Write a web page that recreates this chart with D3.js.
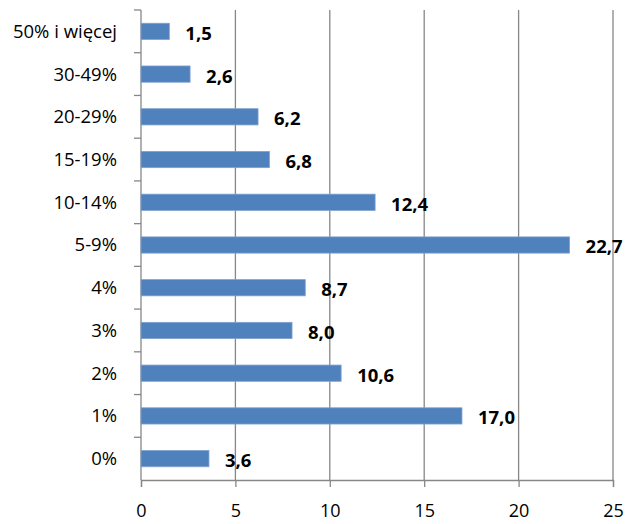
<!DOCTYPE html>
<html>
<head>
<meta charset="utf-8">
<script src="https://cdn.jsdelivr.net/npm/d3@7"></script>
<style>
	body { margin: 0; background: #fff; }
	text { font-family: "Open Sans", sans-serif; fill: #000; }
</style>
</head>
<body>
<script>
// categories from bottom to top
var categories = ["0%", "1%", "2%", "3%", "4%", "5-9%", "10-14%", "15-19%", "20-29%", "30-49%", "50% i więcej"];
// share of respondents, in %
var values = [3.6, 17.0, 10.6, 8.0, 8.7, 22.7, 12.4, 6.8, 6.2, 2.6, 1.5];
var xTicks = [0, 5, 10, 15, 20, 25];

var width = 627, height = 524;
var margin = { top: 10, right: 14, bottom: 44, left: 141 };

var svg = d3.select("body").append("svg")
	.attr("width", width)
	.attr("height", height);

var g = svg.append("g")
	.attr("transform", "translate(" + margin.left + "," + margin.top + ")");

var w = width - margin.left - margin.right,
	h = height - margin.top - margin.bottom;

var x = d3.scaleLinear().domain([0, 25]).range([0, w]);
var y = d3.scaleBand().domain(categories).range([h, 0]);

var gridColor = "#878787";

// vertical gridlines
g.selectAll(".grid")
	.data(xTicks.slice(1))
	.enter().append("line")
	.attr("x1", function (d) { return x(d); })
	.attr("x2", function (d) { return x(d); })
	.attr("y1", 0)
	.attr("y2", h)
	.attr("stroke", gridColor)
	.attr("stroke-width", 1.3);

// x axis
var xAxis = g.append("g")
	.attr("transform", "translate(0," + h + ")")
	.call(d3.axisBottom(x).tickValues(xTicks).tickSize(7).tickPadding(17).tickFormat(d3.format("d")));
xAxis.select(".domain").attr("stroke", gridColor).attr("stroke-width", 1.3);
xAxis.selectAll(".tick line").attr("stroke", gridColor).attr("stroke-width", 1.3);
xAxis.selectAll("text").attr("font-size", 18).attr("font-family", "Open Sans");

// y axis line and boundary ticks
g.append("line")
	.attr("x1", 0).attr("x2", 0)
	.attr("y1", 0).attr("y2", h)
	.attr("stroke", gridColor)
	.attr("stroke-width", 1.3);

var bounds = categories.map(function (c) { return y(c); });
g.selectAll(".ytick")
	.data(bounds)
	.enter().append("line")
	.attr("x1", -7).attr("x2", 0)
	.attr("y1", function (d) { return d; })
	.attr("y2", function (d) { return d; })
	.attr("stroke", gridColor)
	.attr("stroke-width", 1.3);

// category labels
g.selectAll(".ylabel")
	.data(categories)
	.enter().append("text")
	.attr("x", -24)
	.attr("y", function (d) { return y(d) + y.bandwidth() / 2; })
	.attr("dy", "0.35em")
	.attr("text-anchor", "end")
	.attr("font-size", 18.5)
	.text(function (d) { return d; });

// bars
var barH = y.bandwidth() * 0.38;
g.selectAll(".bar")
	.data(values)
	.enter().append("rect")
	.attr("x", 0)
	.attr("y", function (d, i) { return y(categories[i]) + (y.bandwidth() - barH) / 2; })
	.attr("width", function (d) { return x(d); })
	.attr("height", barH)
	.attr("fill", "#4f81bd")
	.attr("stroke", "#7ea2cf")
	.attr("stroke-width", 0.8);

// value labels
var fmt = function (d) { return d.toFixed(1).replace(".", ","); };
g.selectAll(".val")
	.data(values)
	.enter().append("text")
	.attr("x", function (d) { return x(d) + 16; })
	.attr("y", function (d, i) { return y(categories[i]) + y.bandwidth() / 2 + 2; })
	.attr("dy", "0.35em")
	.attr("font-size", 18.5)
	.attr("font-weight", "bold")
	.text(fmt);
</script>
</body>
</html>
